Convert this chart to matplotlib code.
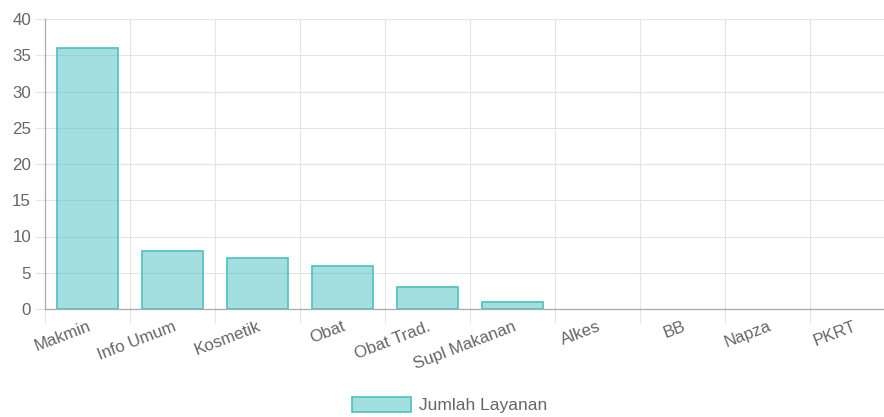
import numpy as np
import matplotlib
matplotlib.use("Agg")
import matplotlib.pyplot as plt
from matplotlib.ticker import FixedLocator

categories = ["Makmin", "Info Umum", "Kosmetik", "Obat", "Obat Trad.",
              "Supl Makanan", "Alkes", "BB", "Napza", "PKRT"]
values = [36, 8, 7, 6, 3, 1, 0, 0, 0, 0]
series_label = "Jumlah Layanan"

plt.rcParams["font.family"] = ["Liberation Sans", "DejaVu Sans"]

fig = plt.figure(figsize=(8.84, 4.17), dpi=100)
ax = fig.add_axes([45 / 884, 1 - 309 / 417, 1 - 45 / 884, (309 - 19) / 417])

x = np.arange(len(categories))
# Chart.js ne dessine rien pour les valeurs nulles
heights = np.array(values, dtype=float)
heights[heights == 0] = np.nan
ax.bar(x, heights, width=61 / 85, color=(75 / 255, 192 / 255, 192 / 255, 0.5),
       edgecolor="#4bc0c0", linewidth=1.2, label=series_label, zorder=3)

ax.set_xlim(-0.5, 9.5 - 11 / 85)
ax.set_ylim(0, 40)
ax.set_yticks(np.arange(0, 41, 5))
ax.set_xticks(x)
ax.set_xticklabels(categories, rotation=21, ha="right", rotation_mode="anchor",
                   fontsize=12.2, color="#666666")
ax.xaxis.set_minor_locator(FixedLocator(np.arange(-0.5, 10, 1)))
ax.tick_params(axis="x", which="major", length=0, pad=7)
ax.tick_params(axis="x", which="minor", length=10, color="#e4e4e4", width=0.8)
ax.tick_params(axis="y", length=7, color="#e4e4e4", width=0.8, labelsize=12.2,
               labelcolor="#666666", pad=3)

ax.grid(axis="y", color="#e4e4e4", linewidth=0.8, zorder=0)
ax.grid(axis="x", which="minor", color="#e4e4e4", linewidth=0.8, zorder=0)
ax.grid(axis="x", which="major", visible=False)

for side in ["top", "right"]:
    ax.spines[side].set_visible(False)
ax.spines["left"].set_color("#aaaaaa")
ax.spines["bottom"].set_color("#aaaaaa")
ax.spines["left"].set_linewidth(0.9)
ax.spines["bottom"].set_linewidth(0.9)

fig.legend(loc="center", bbox_to_anchor=(0.509, 0.029), frameon=False,
           fontsize=12.5, handlelength=3.4, handleheight=1.0, labelcolor="#666666",
           handletextpad=0.45)

fig.savefig("out.png", dpi=100)
